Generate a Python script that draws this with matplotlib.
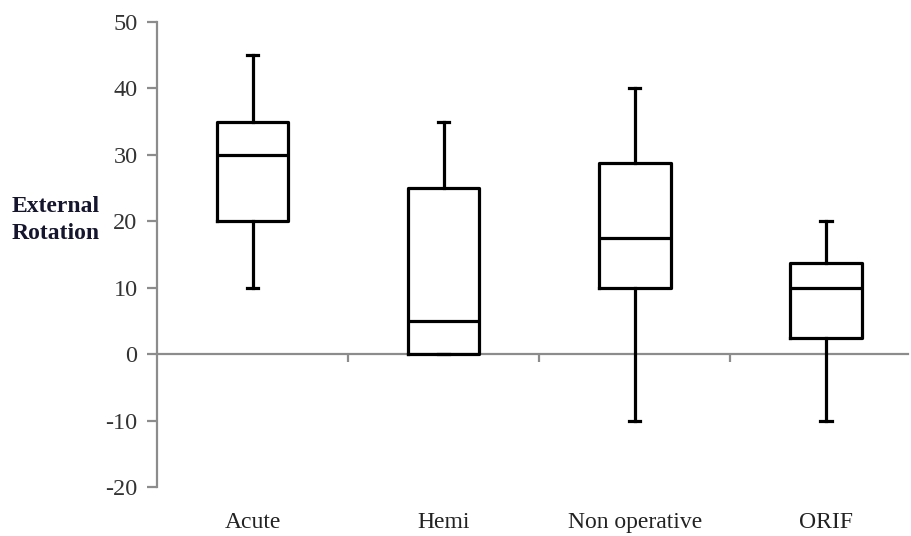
import matplotlib
matplotlib.use("Agg")
import matplotlib.pyplot as plt

categories = ["Acute", "Hemi", "Non operative", "ORIF"]
whisker_low = [10, 0, -10, -10]
q1 = [20, 0, 10, 2.5]
median = [30, 5, 17.5, 10]
q3 = [35, 25, 28.8, 13.7]
whisker_high = [45, 35, 40, 20]
yticks = [-20, -10, 0, 10, 20, 30, 40, 50]

plt.rcParams['font.family'] = ['Liberation Serif', 'DejaVu Serif']

fig = plt.figure(figsize=(9.11, 5.36), dpi=100)
ax = fig.add_axes([157/911, 49/536, (908-157)/911, (487-22)/536])

stats = []
for i, c in enumerate(categories):
    stats.append(dict(label=c, whislo=whisker_low[i], q1=q1[i], med=median[i],
                      q3=q3[i], whishi=whisker_high[i], fliers=[]))
positions = list(range(1, len(categories) + 1))
lw = 2.3
ax.bxp(stats, positions=positions, widths=0.375, capwidths=0.06, showfliers=False,
       boxprops=dict(color='black', linewidth=lw),
       medianprops=dict(color='black', linewidth=lw),
       whiskerprops=dict(color='black', linewidth=lw),
       capprops=dict(color='black', linewidth=lw),
       manage_ticks=False, zorder=3)

ax.set_xlim(0.5, 4.43)
ax.set_ylim(-20, 50)
ax.set_yticks(yticks)
ax.set_yticklabels([str(v) for v in yticks], fontsize=17.5, color='#333333')

for s in ['top', 'right']:
    ax.spines[s].set_visible(False)
ax.spines['left'].set_color('#8c8c8c')
ax.spines['left'].set_linewidth(1.6)
ax.spines['bottom'].set_position(('data', 0))
ax.spines['bottom'].set_color('#8c8c8c')
ax.spines['bottom'].set_linewidth(1.6)
ax.spines['bottom'].set_zorder(2)

ax.tick_params(axis='y', direction='out', length=7, width=1.6, color='#8c8c8c', pad=7)
ax.set_xticks([p + 0.5 for p in positions[:-1]])
ax.set_xticklabels([])
ax.tick_params(axis='x', direction='out', length=6, width=1.6, color='#8c8c8c')

sec = ax.secondary_xaxis('bottom')
sec.set_xticks(positions)
sec.set_xticklabels(categories, fontsize=17, color='#222222')
sec.tick_params(length=0, pad=18)
sec.spines['bottom'].set_visible(False)

ax.set_ylabel("External\nRotation", rotation=0, fontsize=17, fontweight='bold',
              color='#15152e', ha='left', va='center', linespacing=1.4)
ax.yaxis.set_label_coords(-145/751, (20.2 + 20) / 70)

fig.savefig("out.png", dpi=100, facecolor='white')
